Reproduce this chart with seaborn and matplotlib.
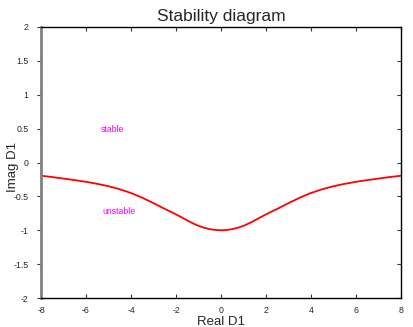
import matplotlib
matplotlib.use("Agg")
import matplotlib.pyplot as plt
import seaborn as sns
import pandas as pd

real_d1 = [-8, -7.5, -7, -6.5, -6, -5.5, -5, -4.5, -4, -3.5, -3, -2.5, -2, -1.75, -1.5, -1.25, -1, -0.75, -0.5, -0.25, 0,
           0.25, 0.5, 0.75, 1, 1.25, 1.5, 1.75, 2, 2.5, 3, 3.5, 4, 4.5, 5, 5.5, 6, 6.5, 7, 7.5, 8]
imag_d1 = [-0.195, -0.215, -0.237, -0.26, -0.285, -0.315, -0.35, -0.395, -0.45, -0.52, -0.60, -0.685, -0.765, -0.81, -0.855, -0.898, -0.935, -0.963, -0.984, -0.996, -1.0,
           -0.996, -0.984, -0.963, -0.935, -0.898, -0.855, -0.81, -0.765, -0.685, -0.60, -0.52, -0.45, -0.395, -0.35, -0.315, -0.285, -0.26, -0.237, -0.215, -0.195]
x_ticks = [-8, -6, -4, -2, 0, 2, 4, 6, 8]
y_ticks = [-2, -1.5, -1, -0.5, 0, 0.5, 1, 1.5, 2]
y_tick_labels = ["-2", "-1.5", "-1", "-0.5", "0", "0.5", "1", "1.5", "2"]
annotations = [("stable", -4.8, 0.48), ("unstable", -4.55, -0.72)]

sns.set_style("white")
plt.rcParams['font.family'] = ['Liberation Sans', 'DejaVu Sans']

df = pd.DataFrame({"Real D1": real_d1, "Imag D1": imag_d1})

fig = plt.figure(figsize=(4.14, 3.27), dpi=100)
ax = fig.add_axes([41/414, 29/327, 360/414, 271/327])
sns.lineplot(data=df, x="Real D1", y="Imag D1", ax=ax, color="#ff0000", linewidth=1.3, sort=False)

ax.set_xlim(-8, 8)
ax.set_ylim(-2, 2)
ax.set_xticks(x_ticks)
ax.set_xticklabels([str(t) for t in x_ticks])
ax.set_yticks(y_ticks)
ax.set_yticklabels(y_tick_labels)
ax.tick_params(axis='x', direction='in', length=3, labelsize=6.3, top=True, bottom=True, pad=6, color='#333333')
ax.tick_params(axis='y', direction='out', length=3, labelsize=6.3, left=True, right=False, pad=6, color='#333333')
ax2 = ax.secondary_yaxis('right')
ax2.set_yticks(y_ticks)
ax2.tick_params(axis='y', direction='in', length=3, labelright=False, color='#333333')
ax2.spines['right'].set_visible(False)

for s in ['top', 'right', 'bottom']:
    ax.spines[s].set_color('black')
    ax.spines[s].set_linewidth(1.0)
ax.spines['left'].set_color('#808080')
ax.spines['left'].set_linewidth(2.0)

ax.set_xlabel("Real D1", fontsize=9.5)
ax.xaxis.set_label_coords(0.5, -18/271, transform=ax.transAxes)
ax.set_ylabel("Imag D1", fontsize=9.5)
ax.yaxis.set_label_coords(-22/360, 0.485, transform=ax.transAxes)
ax.set_title("Stability diagram", fontsize=12.5, pad=4)

for txt, x, y in annotations:
    ax.text(x, y, txt, color="#ff00ff", fontsize=6.3, ha="center", va="center")

fig.savefig("out.png", dpi=100)
